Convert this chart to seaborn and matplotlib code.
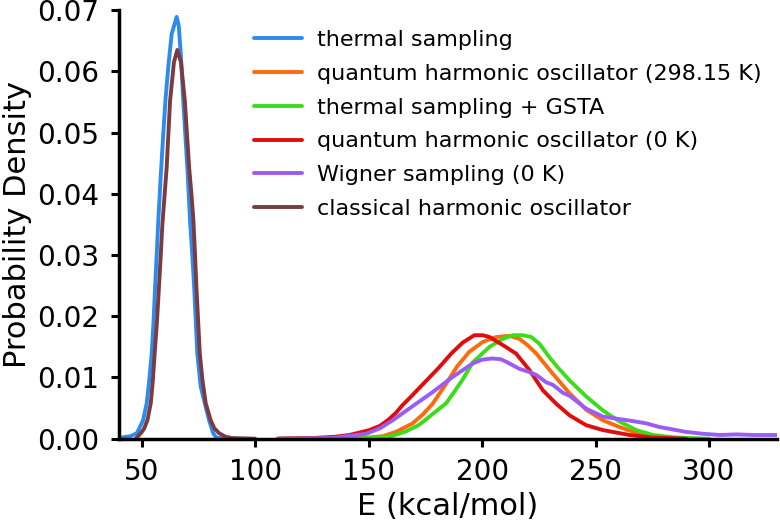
import matplotlib
matplotlib.use("Agg")
import matplotlib.pyplot as plt
import seaborn as sns
import pandas as pd

# Curves (E in kcal/mol, probability density)
e_thermal = [41.3, 45.0, 47.9, 50.6, 52.2, 53.3, 54.4, 55.2, 55.9, 56.6, 57.3, 58.4, 59.5, 60.5, 61.7, 63.2, 65.4,
             66.3, 67.2, 68.2, 69.2, 70.3, 71.3, 72.3, 73.1, 74.5, 76.0, 78.2, 79.7, 81.5, 82.8, 86.0, 90.0]
p_thermal = [0.0002, 0.0004, 0.0009, 0.003, 0.0058, 0.0095, 0.0139, 0.019, 0.0248, 0.030, 0.0356, 0.043, 0.0498, 0.0555, 0.0607, 0.0661, 0.0689,
             0.0675, 0.063, 0.056, 0.0498, 0.043, 0.0356, 0.030, 0.0248, 0.0139, 0.0085, 0.0052, 0.003, 0.0009, 0.0002, 0.0, 0.0]

e_qho_298 = [110, 140, 150, 156.2, 162, 169.4, 174, 178.2, 184.2, 189, 194.4, 200.3, 206.2, 212.1, 216.5, 220,
             223.9, 231.2, 238.6, 246, 253.3, 260.6, 266, 272, 280, 295]
p_qho_298 = [0.0, 0.0001, 0.0002, 0.0004, 0.0011, 0.0025, 0.004, 0.0057, 0.009, 0.0118, 0.0142, 0.0158, 0.0166, 0.0168, 0.0163, 0.0153,
             0.0139, 0.0106, 0.0074, 0.0047, 0.003, 0.0019, 0.0012, 0.0006, 0.0002, 0.0]

e_gsta = [110, 150, 160, 166.5, 172, 176.8, 184.2, 188, 191.5, 196, 203.3, 209.1, 213.5, 218, 221.7, 225.3,
          229.7, 233, 238.6, 245.9, 253.3, 260.6, 268, 275.3, 285, 300]
p_gsta = [0.0, 0.0001, 0.0004, 0.0012, 0.0022, 0.0036, 0.0058, 0.0078, 0.0097, 0.0125, 0.015, 0.0163, 0.0169, 0.0169, 0.0166, 0.0155,
          0.0133, 0.0118, 0.0095, 0.0069, 0.0046, 0.0028, 0.0014, 0.0006, 0.0002, 0.0]

e_qho_0 = [110, 125, 135, 141.5, 146, 150.3, 155, 158.4, 162, 165, 168.5, 171.6, 176.8, 181.2, 186.4, 191.5, 196.6,
           200.3, 203.3, 209.1, 215, 220.9, 226.8, 232.7, 238.6, 245.9, 253.3, 265, 275, 290]
p_qho_0 = [0.0, 0.0001, 0.0003, 0.0006, 0.001, 0.0014, 0.0021, 0.003, 0.0042, 0.0055, 0.0068, 0.008, 0.01, 0.0117, 0.0139, 0.0157, 0.0169,
           0.0169, 0.0166, 0.0153, 0.0139, 0.0112, 0.0079, 0.0057, 0.0038, 0.0022, 0.0014, 0.0006, 0.0002, 0.0]

e_wigner = [110, 134, 148.9, 155, 160.6, 170.9, 178.2, 187.1, 195.9, 200, 204.3, 208, 210.5, 216.5, 220, 224,
            228.3, 231.2, 235.6, 238.6, 245.9, 253.3, 260.6, 266, 272.4, 278.2, 282.7, 290, 297.4, 305, 312, 320, 330]
p_wigner = [0.0, 0.0001, 0.0008, 0.0017, 0.003, 0.0057, 0.0076, 0.0101, 0.0123, 0.0129, 0.0131, 0.013, 0.0126, 0.0114, 0.011, 0.0104,
            0.0092, 0.0088, 0.0075, 0.007, 0.0049, 0.0036, 0.0032, 0.0029, 0.0025, 0.0019, 0.0016, 0.0011, 0.0008, 0.0006, 0.0007, 0.0006, 0.0006]

e_classical = [47.4, 49.6, 51.0, 52.5, 54.0, 54.9, 55.7, 56.7, 57.6, 58.4, 59.1, 61.0, 62.5, 64.2, 65.7, 67.3, 69.0, 70.9,
               71.9, 72.8, 73.5, 74.1, 74.9, 75.6, 76.8, 78.2, 80.4, 82.0, 84.1, 87.0, 89.9, 100]
p_classical = [0.0, 0.0009, 0.0016, 0.003, 0.0058, 0.0095, 0.0139, 0.019, 0.0248, 0.030, 0.035, 0.0443, 0.0552, 0.0615, 0.0635, 0.0615, 0.0552, 0.0443,
               0.040, 0.0356, 0.030, 0.0248, 0.019, 0.0139, 0.0095, 0.0058, 0.003, 0.0017, 0.0009, 0.0003, 0.0001, 0.0]

labels = ["thermal sampling",
          "quantum harmonic oscillator (298.15 K)",
          "thermal sampling + GSTA",
          "quantum harmonic oscillator (0 K)",
          "Wigner sampling (0 K)",
          "classical harmonic oscillator"]
colors = ["#2b8cee", "#ff6a0d", "#3ddc1a", "#e00d0d", "#9a5cf5", "#7d3b3f"]

x_ticks = [50, 100, 150, 200, 250, 300]
y_ticks = [0.0, 0.01, 0.02, 0.03, 0.04, 0.05, 0.06, 0.07]


def build_frame():
    series = [(e_thermal, p_thermal), (e_qho_298, p_qho_298), (e_gsta, p_gsta),
              (e_qho_0, p_qho_0), (e_wigner, p_wigner), (e_classical, p_classical)]
    frames = []
    for label, (e, p) in zip(labels, series):
        frames.append(pd.DataFrame({"E": e, "density": p, "method": label}))
    return pd.concat(frames, ignore_index=True)


def main():
    sns.set_style("ticks")
    plt.rcParams["font.family"] = ["DejaVu Sans"]
    plt.rcParams["text.color"] = "black"
    plt.rcParams["axes.labelcolor"] = "black"

    df = build_frame()
    fig = plt.figure(figsize=(7.8, 5.21), dpi=100)
    ax = fig.add_axes([0.1526, 0.158, 0.8436, 0.8225])

    sns.lineplot(data=df, x="E", y="density", hue="method", hue_order=labels,
                 palette=dict(zip(labels, colors)), linewidth=2.8, ax=ax)

    ax.set_xlim(40, 330)
    ax.set_ylim(0, 0.07)
    ax.set_xticks(x_ticks)
    ax.set_yticks(y_ticks)
    ax.set_yticklabels([f"{v:.2f}" for v in y_ticks])
    ax.set_xlabel("E (kcal/mol)", fontsize=22)
    ax.set_ylabel("Probability Density", fontsize=22)
    ax.tick_params(labelsize=20, width=2.2, length=6, pad=8, colors="black")
    for side in ["left", "bottom"]:
        ax.spines[side].set_linewidth(2.5)
        ax.spines[side].set_color("black")
    sns.despine(ax=ax)

    leg = ax.legend(loc="upper left", bbox_to_anchor=(254 / 780, 1 - 30 / 521),
                    bbox_transform=fig.transFigure, frameon=False, fontsize=16,
                    handlelength=2.15, handletextpad=0.68, labelspacing=0.62,
                    borderpad=0, borderaxespad=0)
    for line in leg.get_lines():
        line.set_linewidth(2.8)

    fig.savefig("out.png", dpi=100)
    plt.close(fig)


if __name__ == "__main__":
    main()
